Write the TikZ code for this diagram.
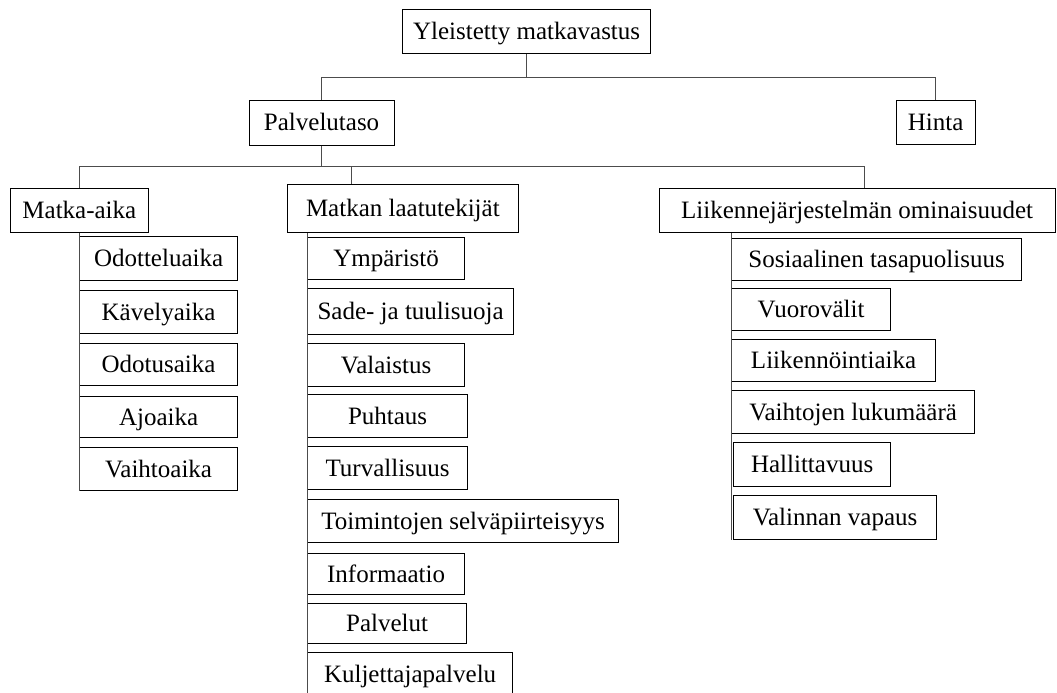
\documentclass[tikz,border=0pt]{standalone}
\usepackage{fontspec}
\setmainfont{Liberation Serif}
\begin{document}
\begin{tikzpicture}[x=1pt,y=-1pt,
  box/.style={draw=black, line width=1.2pt, fill=white, inner sep=0pt, anchor=north west,
    font=\fontsize{25}{30}\selectfont, text height=17.5pt, text depth=1pt, align=center},
  conn/.style={draw=black!70, line width=1pt}]
\useasboundingbox (0,0) rectangle (1057,693);
\clip (0,0) rectangle (1057,693);
% level 0-1
\node[box, minimum width=248pt, minimum height=44pt] (top) at (402,9) {Yleistetty matkavastus};
\node[box, minimum width=145pt, minimum height=45pt] (palv) at (248.5,99.5) {Palvelutaso};
\node[box, minimum width=79pt, minimum height=44pt] (hinta) at (895.5,100) {Hinta};
% level 2
\node[box, minimum width=137.5pt, minimum height=44pt] (matka) at (10,188) {Matka-aika};
\node[box, minimum width=231.5pt, minimum height=48.5pt] (mlaatu) at (286.5,183.5) {Matkan laatutekijät};
\node[box, minimum width=396pt, minimum height=44pt] (liik) at (658.5,188) {Liikennejärjestelmän ominaisuudet};
% Matka-aika children
\node[box, minimum width=158pt, minimum height=44pt] (odottelu) at (79,236) {Odotteluaika};
\node[box, minimum width=158pt, minimum height=43pt] (kavely) at (79,290) {Kävelyaika};
\node[box, minimum width=158pt, minimum height=42pt] (odotus) at (79,343) {Odotusaika};
\node[box, minimum width=158pt, minimum height=41pt] (ajo) at (79,396) {Ajoaika};
\node[box, minimum width=158pt, minimum height=43pt] (vaihto) at (79,447) {Vaihtoaika};
% Matkan laatutekijat children
\node[box, minimum width=157pt, minimum height=42pt] (ymp) at (307,237) {Ympäristö};
\node[box, minimum width=206pt, minimum height=46pt] (sade) at (307,288) {Sade- ja tuulisuoja};
\node[box, minimum width=157pt, minimum height=43pt] (vala) at (307,343) {Valaistus};
\node[box, minimum width=160pt, minimum height=43pt] (puht) at (307,394) {Puhtaus};
\node[box, minimum width=160pt, minimum height=43pt] (turv) at (307,446) {Turvallisuus};
\node[box, minimum width=311pt, minimum height=43pt] (toim) at (307,499) {Toimintojen selväpiirteisyys};
\node[box, minimum width=157pt, minimum height=41pt] (info) at (307,553) {Informaatio};
\node[box, minimum width=159pt, minimum height=40pt] (palvelut) at (307,603) {Palvelut};
\node[box, minimum width=205pt, minimum height=44pt] (kulj) at (307,652) {Kuljettajapalvelu};
% Liikennejarjestelma children
\node[box, minimum width=290pt, minimum height=42pt] (sos) at (731,238) {Sosiaalinen tasapuolisuus};
\node[box, minimum width=159pt, minimum height=42pt] (vuoro) at (731,288) {Vuorovälit};
\node[box, minimum width=204pt, minimum height=42pt] (liikenn) at (731,339) {Liikennöintiaika};
\node[box, minimum width=243pt, minimum height=43pt] (vaihtojen) at (731,390) {Vaihtojen lukumäärä};
\node[box, minimum width=157pt, minimum height=44pt] (hall) at (733,442) {Hallittavuus};
\node[box, minimum width=203pt, minimum height=44pt] (valinnan) at (733,495) {Valinnan vapaus};
% connectors
\coordinate (bus1) at (0,77);
\coordinate (bus2) at (0,166.5);
\coordinate (mt) at ([xshift=65pt]mlaatu.north west);
\coordinate (lt) at ([xshift=7pt]liik.north);
\coordinate (lb) at (liik.south -| sos.west);
\coordinate (mb) at (mlaatu.south -| kulj.west);
\draw[conn] (top.south) -- (top.south |- bus1);
\draw[conn] (palv.north) |- (hinta.north |- bus1) -- (hinta.north);
\draw[conn] (palv.south) -- (palv.south |- bus2);
\draw[conn] (matka.north) |- (lt |- bus2) -- (lt);
\draw[conn] (mt) -- (mt |- bus2);
\draw[conn] (matka.south) -- (matka.south |- vaihto.south);
\draw[conn] (mb) -- (kulj.south west);
\draw[conn] (lb) -- (lb |- valinnan.south);
\end{tikzpicture}
\end{document}
